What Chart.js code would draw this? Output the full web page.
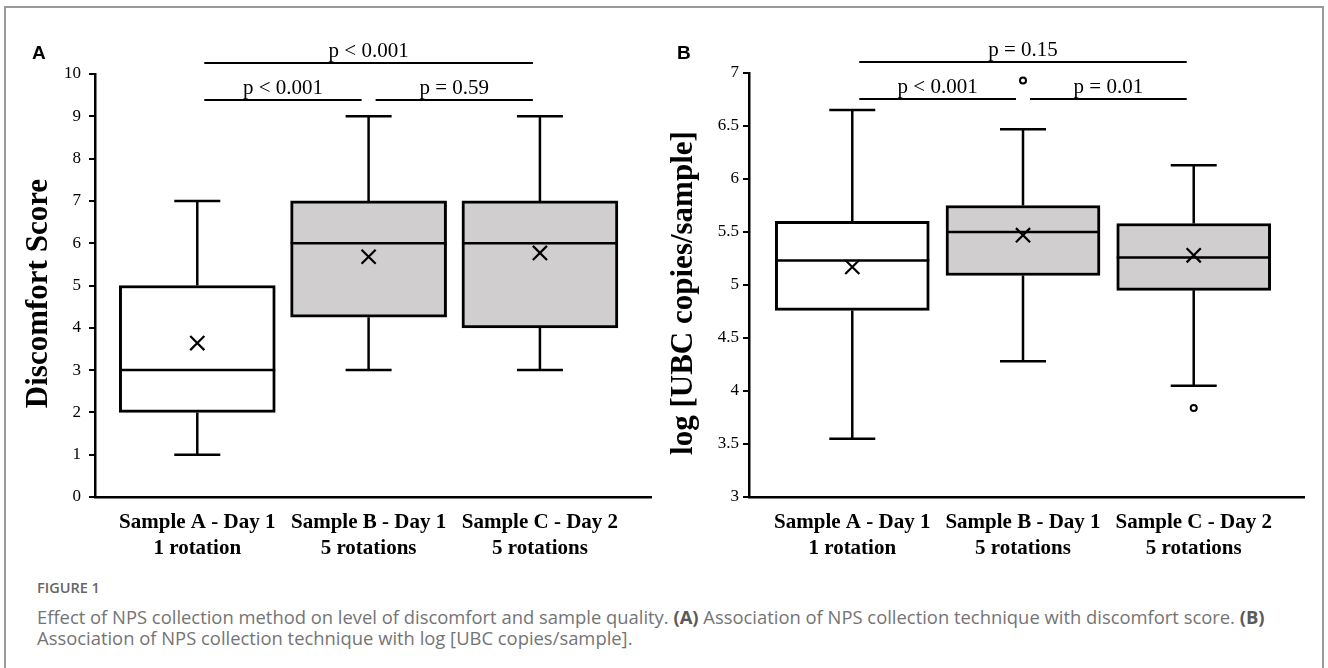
<!DOCTYPE html>
<html>
<head>
<meta charset="utf-8">
<script src="https://cdn.jsdelivr.net/npm/chart.js@4.4.1/dist/chart.umd.min.js"></script>
<style>
  html, body { margin: 0; padding: 0; background: #fff; }
  body { width: 1328px; height: 668px; position: relative; overflow: hidden; }
  #frame { position: absolute; left: 4px; top: 6px; width: 1320px; height: 700px; border: 2px solid #9a9a9a; box-sizing: border-box; }
  .panel { position: absolute; top: 0; width: 664px; height: 560px; }
  #panelA { left: 0; }
  #panelB { left: 664px; }
  .tag { position: absolute; top: 42px; font: bold 19px "Liberation Sans", Arial, sans-serif; color: #000; }
  #cap { position: absolute; left: 37px; top: 578px; font-family: "Open Sans", "Noto Sans", sans-serif; color: #747474; }
  #cap .fig { font-size: 14.5px; font-weight: 600; line-height: 20px; color: #666; }
  #cap .txt { font-size: 18.4px; line-height: 21px; margin-top: 8px; }
  #cap b { color: #5a5a5a; }
</style>
</head>
<body>
<div id="frame"></div>
<div class="panel" id="panelA"><canvas id="chartA" width="664" height="560"></canvas></div>
<div class="panel" id="panelB"><canvas id="chartB" width="664" height="560"></canvas></div>
<div class="tag" style="left:32px">A</div>
<div class="tag" style="left:677px">B</div>
<div id="cap">
  <div class="fig">FIGURE 1</div>
  <div class="txt">Effect of NPS collection method on level of discomfort and sample quality. <b>(A)</b> Association of NPS collection technique with discomfort score. <b>(B)</b><br>Association of NPS collection technique with log [UBC copies/sample].</div>
</div>

<script>
// categorías (eje x)
const categories = [
    ['Sample A - Day 1', '1 rotation'],
    ['Sample B - Day 1', '5 rotations'],
    ['Sample C - Day 2', '5 rotations']
];
const boxColors = ['#ffffff', '#d0cece', '#d0cece'];

// Panel A - Discomfort Score
const discomfortMin = [1, 3, 3];
const discomfortQ1 = [2, 4.25, 4];
const discomfortMedian = [3, 6, 6];
const discomfortQ3 = [5, 7, 7];
const discomfortMax = [7, 9, 9];
const discomfortMean = [3.64, 5.68, 5.77];
const discomfortOutliers = [[], [], []];
const discomfortTicks = [0, 1, 2, 3, 4, 5, 6, 7, 8, 9, 10];
const discomfortPairs = [
    { from: 0, to: 2, level: 1, text: 'p < 0.001' },
    { from: 0, to: 1, level: 0, text: 'p < 0.001' },
    { from: 1, to: 2, level: 0, text: 'p = 0.59' }
];

// Panel B - log [UBC copies/sample]
const ubcMin = [3.55, 4.28, 4.05];
const ubcQ1 = [4.76, 5.09, 4.95];
const ubcMedian = [5.23, 5.5, 5.26];
const ubcQ3 = [5.6, 5.75, 5.58];
const ubcMax = [6.65, 6.47, 6.13];
const ubcMean = [5.17, 5.47, 5.28];
const ubcOutliers = [[], [6.93], [3.84]];
const ubcTicks = [3, 3.5, 4, 4.5, 5, 5.5, 6, 6.5, 7];
const ubcPairs = [
    { from: 0, to: 2, level: 1, text: 'p = 0.15' },
    { from: 0, to: 1, level: 0, text: 'p < 0.001' },
    { from: 1, to: 2, level: 0, text: 'p = 0.01' }
];

const serif = '"Liberation Serif", "Times New Roman", serif';
Chart.defaults.font.family = serif;

// Bigotes, medianas, corchetes de significancia y título del eje y
const boxExtras = {
    id: 'boxExtras',
    afterDatasetsDraw(chart) {
        const o = chart.options.plugins.boxExtras;
        const { ctx, chartArea } = chart;
        const x = chart.scales.x, y = chart.scales.y;
        const bars = chart.getDatasetMeta(chart.data.datasets.length - 1).data;
        ctx.save();
        ctx.strokeStyle = '#000';
        ctx.lineCap = 'butt';

        o.min.forEach((mn, i) => {
            const cx = x.getPixelForValue(i);
            const half = bars[i].width / 2;
            ctx.lineWidth = 2.5;
            ctx.beginPath();
            ctx.moveTo(cx, y.getPixelForValue(o.q3[i]));
            ctx.lineTo(cx, y.getPixelForValue(o.max[i]));
            ctx.moveTo(cx, y.getPixelForValue(o.q1[i]));
            ctx.lineTo(cx, y.getPixelForValue(mn));
            ctx.moveTo(cx - 23, y.getPixelForValue(o.max[i]));
            ctx.lineTo(cx + 23, y.getPixelForValue(o.max[i]));
            ctx.moveTo(cx - 23, y.getPixelForValue(mn));
            ctx.lineTo(cx + 23, y.getPixelForValue(mn));
            ctx.moveTo(cx - half, y.getPixelForValue(o.median[i]));
            ctx.lineTo(cx + half, y.getPixelForValue(o.median[i]));
            ctx.stroke();
        });

        // corchetes p
        ctx.font = '21px ' + serif;
        ctx.fillStyle = '#000';
        ctx.textAlign = 'center';
        ctx.textBaseline = 'alphabetic';
        ctx.lineWidth = 2;
        o.pairs.forEach(p => {
            const ly = p.level ? chartArea.top - 11 : chartArea.top + 26;
            const x1 = x.getPixelForValue(p.from) + 7;
            const x2 = x.getPixelForValue(p.to) - 7;
            ctx.beginPath();
            ctx.moveTo(x1, ly);
            ctx.lineTo(x2, ly);
            ctx.stroke();
            ctx.fillText(p.text, (x1 + x2) / 2, ly - 6.5);
        });

        // título del eje y (un poco más abajo del centro, como en la figura)
        ctx.font = 'bold 31px ' + serif;
        ctx.textBaseline = 'middle';
        ctx.translate(o.titleX, (chartArea.top + chartArea.bottom) / 2 + 8);
        ctx.rotate(-Math.PI / 2);
        ctx.fillText(o.title, 0, 0);
        ctx.restore();
    }
};

function makeChart(id, d) {
    const outlierPoints = [];
    d.outliers.forEach((list, i) => list.forEach(v => outlierPoints.push({ x: i, y: v })));

    return new Chart(document.getElementById(id), {
        type: 'bar',
        data: {
            datasets: [
                {
                    type: 'scatter',
                    data: d.mean.map((v, i) => ({ x: i, y: v })),
                    pointStyle: 'crossRot',
                    pointRadius: 10,
                    borderColor: '#000',
                    borderWidth: 2.2
                },
                {
                    type: 'scatter',
                    data: outlierPoints,
                    pointStyle: 'circle',
                    pointRadius: 3,
                    backgroundColor: '#fff',
                    borderColor: '#000',
                    borderWidth: 2
                },
                {
                    type: 'bar',
                    data: d.q1.map((v, i) => ({ x: i, y: [v, d.q3[i]] })),
                    backgroundColor: boxColors,
                    borderColor: '#000',
                    borderWidth: 3,
                    borderSkipped: false,
                    barThickness: d.boxWidth
                }
            ]
        },
        options: {
            responsive: false,
            animation: false,
            layout: { padding: { left: 0, right: d.padRight, top: d.padTop, bottom: 0 } },
            plugins: {
                legend: { display: false },
                tooltip: { enabled: false },
                boxExtras: {
                    min: d.min, q1: d.q1, median: d.median, q3: d.q3, max: d.max, pairs: d.pairs,
                    title: d.title, titleX: d.titleX
                }
            },
            scales: {
                x: {
                    type: 'linear',
                    min: d.xMin,
                    max: d.xMax,
                    offset: false,
                    afterBuildTicks: s => { s.ticks = categories.map((c, i) => ({ value: i })); },
                    afterFit: s => { s.height = 63; },
                    grid: { display: false, drawTicks: false, offset: false },
                    border: { display: true, color: '#000', width: 2.5 },
                    ticks: {
                        padding: 13,
                        color: '#000',
                        maxRotation: 0,
                        autoSkip: false,
                        font: { family: serif, size: 21, weight: 'bold', lineHeight: 1.24 },
                        callback: v => categories[v]
                    }
                },
                y: {
                    min: d.yTicks[0],
                    max: d.yTicks[d.yTicks.length - 1],
                    afterBuildTicks: s => { s.ticks = d.yTicks.map(v => ({ value: v })); },
                    afterFit: s => { s.width = d.axisWidth; },
                    grid: { drawOnChartArea: false, drawTicks: true, tickLength: 6, color: '#000', lineWidth: 2 },
                    border: { display: true, color: '#000', width: 2.5 },
                    ticks: {
                        padding: d.tickPad,
                        color: '#000',
                        font: { family: serif, size: 17, weight: 'normal' },
                        callback: v => String(v)
                    },
                    title: { display: false }
                }
            }
        },
        plugins: [boxExtras]
    });
}

makeChart('chartA', {
    min: discomfortMin, q1: discomfortQ1, median: discomfortMedian, q3: discomfortQ3, max: discomfortMax,
    mean: discomfortMean, outliers: discomfortOutliers, yTicks: discomfortTicks, pairs: discomfortPairs,
    title: 'Discomfort Score', titleX: 39,
    xMin: -0.597, xMax: 2.653, boxWidth: 156, axisWidth: 95, padRight: 8, padTop: 74, tickPad: 8
});

makeChart('chartB', {
    min: ubcMin, q1: ubcQ1, median: ubcMedian, q3: ubcQ3, max: ubcMax,
    mean: ubcMean, outliers: ubcOutliers, yTicks: ubcTicks, pairs: ubcPairs,
    title: 'log [UBC copies/sample]', titleX: 20,
    xMin: -0.605, xMax: 2.646, boxWidth: 154, axisWidth: 85, padRight: 24, padTop: 73, tickPad: 4
});
</script>
</body>
</html>
